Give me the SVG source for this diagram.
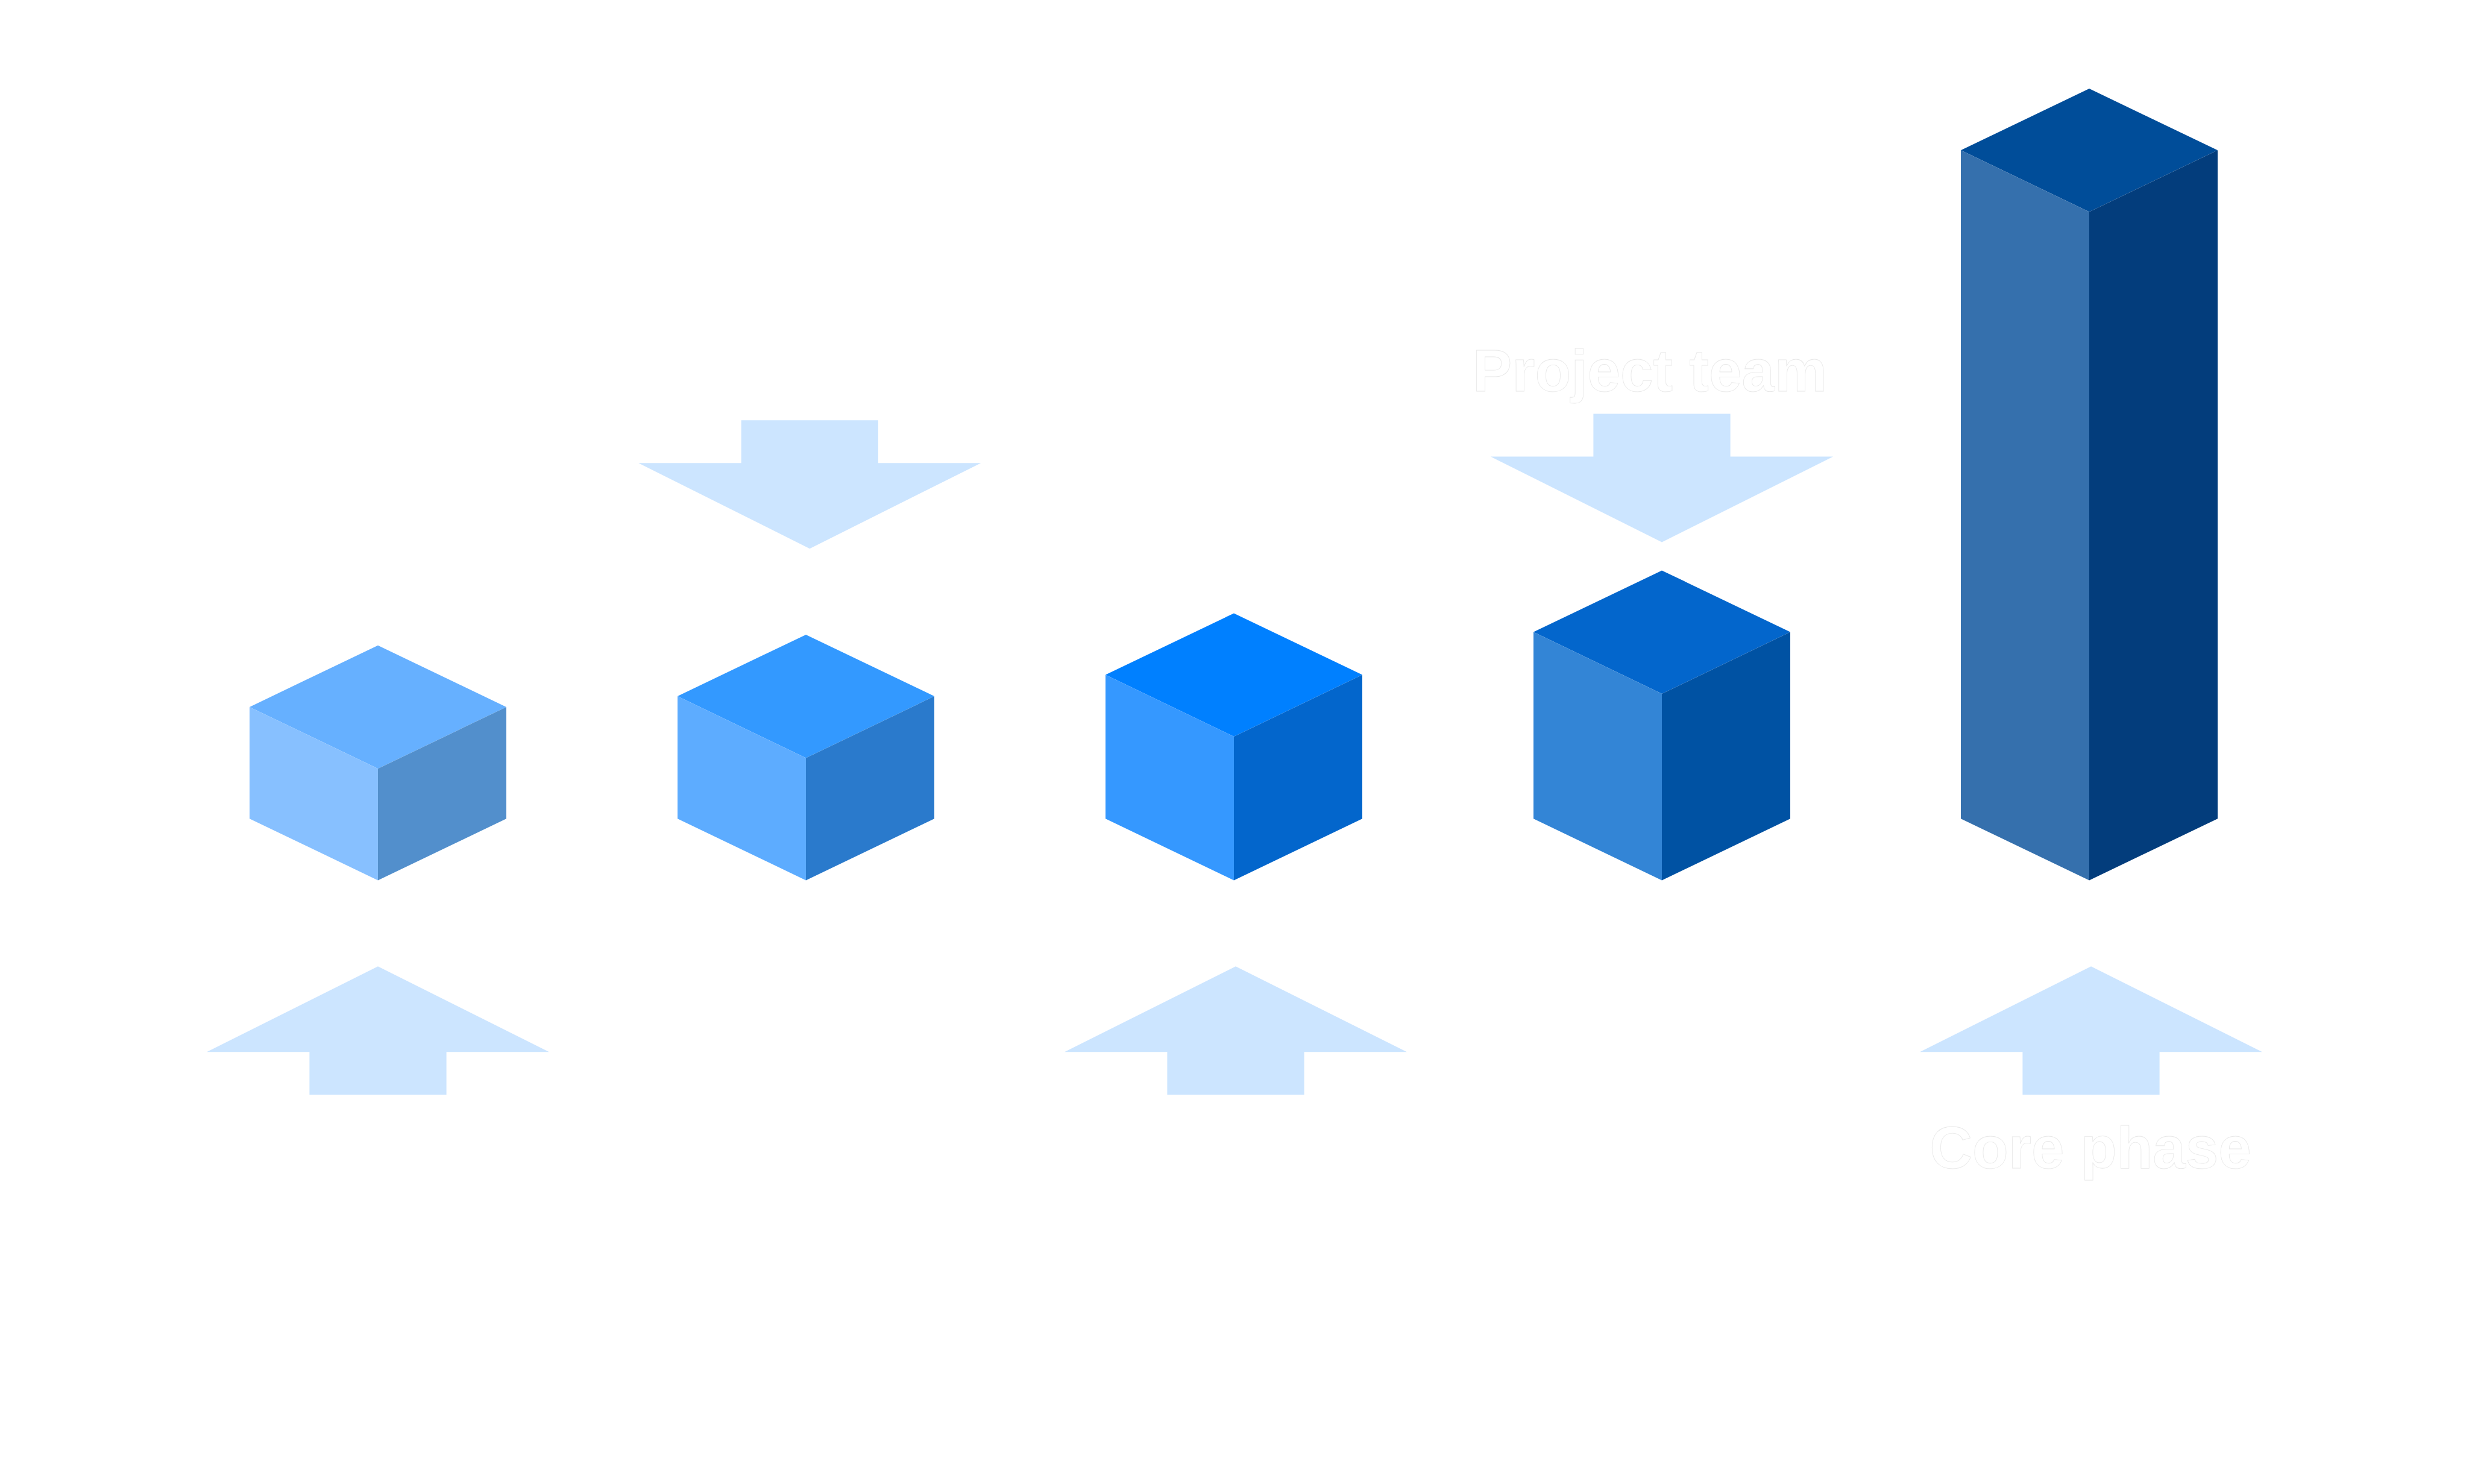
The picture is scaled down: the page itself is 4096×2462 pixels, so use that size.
<svg xmlns="http://www.w3.org/2000/svg" width="4096" height="2462" viewBox="0 0 4096 2462">
<style>
.arrow{fill:#CCE5FF}
.lbl{font-family:"Liberation Sans",Arial,sans-serif;font-weight:bold;font-size:98px;fill:#FFFFFF;stroke:#E8E8E8;stroke-width:0.8;text-anchor:middle}
</style>
<rect width="4096" height="2462" fill="#FFFFFF"/>
<g id="connectors">
<polygon id="arrow1" class="arrow" points="627,1603.2 911,1745.2 740.6,1745.2 740.6,1816.2 513.4,1816.2 513.4,1745.2 343,1745.2"/>
<polygon id="arrow2" class="arrow" points="1229.7,697.2 1456.9,697.2 1456.9,768.2 1627.3,768.2 1343.3,910.2 1059.3,768.2 1229.7,768.2"/>
<polygon id="arrow3" class="arrow" points="2050,1603.2 2334,1745.2 2163.6,1745.2 2163.6,1816.2 1936.4,1816.2 1936.4,1745.2 1766,1745.2"/>
<polygon id="arrow4" class="arrow" points="2643.4,686.6 2870.6,686.6 2870.6,757.6 3041,757.6 2757,899.6 2473,757.6 2643.4,757.6"/>
<polygon id="arrow5" class="arrow" points="3469,1603.2 3753,1745.2 3582.6,1745.2 3582.6,1816.2 3355.4,1816.2 3355.4,1745.2 3185,1745.2"/>
</g>
<g id="cube1">
<polygon fill="#66B0FF" points="627,1070.7 840,1172.9 627,1275.2 414,1172.9"/>
<polygon fill="#87C0FF" points="414,1172.9 627,1275.2 627,1460.5 414,1358.2"/>
<polygon fill="#528FCC" points="840,1172.9 627,1275.2 627,1460.5 840,1358.2"/>
</g>
<g id="cube2">
<polygon fill="#3399FF" points="1337,1052.9 1550,1155.1 1337,1257.4 1124,1155.1"/>
<polygon fill="#5DACFF" points="1124,1155.1 1337,1257.4 1337,1460.5 1124,1358.2"/>
<polygon fill="#2A7ACC" points="1550,1155.1 1337,1257.4 1337,1460.5 1550,1358.2"/>
</g>
<g id="cube3">
<polygon fill="#0080FF" points="2047,1017.4 2260,1119.6 2047,1221.9 1834,1119.6"/>
<polygon fill="#3598FF" points="1834,1119.6 2047,1221.9 2047,1460.5 1834,1358.2"/>
<polygon fill="#0366CC" points="2260,1119.6 2047,1221.9 2047,1460.5 2260,1358.2"/>
</g>
<g id="cube4">
<polygon fill="#0366CC" points="2757,946.4 2970,1048.6 2757,1150.9 2544,1048.6"/>
<polygon fill="#3385D6" points="2544,1048.6 2757,1150.9 2757,1460.5 2544,1358.2"/>
<polygon fill="#0052A3" points="2970,1048.6 2757,1150.9 2757,1460.5 2970,1358.2"/>
</g>
<g id="cube5">
<polygon fill="#004D99" points="3466,147 3679,249.2 3466,351.5 3253,249.2"/>
<polygon fill="#3570AD" points="3253,249.2 3466,351.5 3466,1460.5 3253,1358.2"/>
<polygon fill="#033D7C" points="3679,249.2 3466,351.5 3466,1460.5 3679,1358.2"/>
</g>
<g id="label-project-team">
<text class="lbl" x="2737" y="649">Project team</text>
</g>
<g id="label-core-phase">
<text class="lbl" x="3468" y="1938">Core phase</text>
</g>
</svg>
